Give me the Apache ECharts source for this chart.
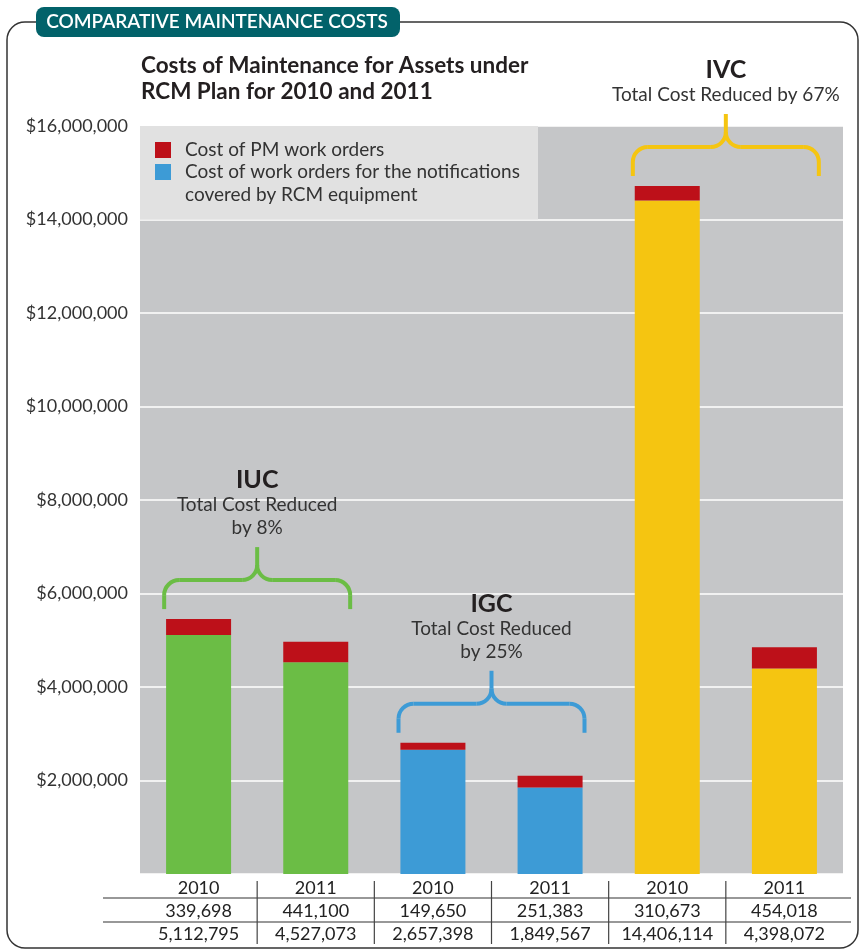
<!DOCTYPE html>
<html>
<head>
<meta charset="utf-8">
<script src="https://cdn.jsdelivr.net/npm/echarts@6/dist/echarts.min.js"></script>
<style>
  html, body { margin: 0; padding: 0; background: #fff; }
  #chart { width: 860px; height: 950px; }
</style>
</head>
<body>
<div id="chart"></div>
<script>
// ---------- data ----------
const categories = ['2010', '2011', '2010', '2011', '2010', '2011'];
const pmCosts = [339698, 441100, 149650, 251383, 310673, 454018];
const notifCosts = [5112795, 4527073, 2657398, 1849567, 14406114, 4398072];
const groupNames = ['IUC', 'IGC', 'IVC'];
const groupNotes = ['Total Cost Reduced\nby 8%', 'Total Cost Reduced\nby 25%', 'Total Cost Reduced by 67%'];
const yMin = 0, yMax = 16000000, yStep = 2000000;
const seriesNames = ['Cost of PM work orders', 'Cost of work orders for the notifications covered by RCM equipment'];
const headerText = 'COMPARATIVE MAINTENANCE COSTS';
const chartTitle = 'Costs of Maintenance for Assets under\nRCM Plan for 2010 and 2011';

// ---------- styles ----------
const groupColors = ['#6bbd45', '#3d9bd6', '#f5c511'];
const pmColor = '#bd1019';
const FONT = 'Lato, "Open Sans", sans-serif';
const fmt = v => v.toLocaleString('en-US');

const chart = echarts.init(document.getElementById('chart'), null, { renderer: 'canvas' });

const option = {
  animation: false,
  backgroundColor: '#fff',
  textStyle: { fontFamily: FONT },
  title: {
    text: chartTitle,
    left: 141, top: 53, padding: 0,
    textStyle: { fontFamily: FONT, fontSize: 22.5, fontWeight: 'bold', color: '#231f20', lineHeight: 26 }
  },
  grid: {
    left: 140, right: 17, top: 126, bottom: 76,
    show: true, backgroundColor: '#c5c6c8', borderWidth: 0
  },
  legend: [
    {
      data: [seriesNames[0]],
      left: 155, top: 138.5, padding: 0,
      icon: 'rect', itemWidth: 16, itemHeight: 16,
      selectedMode: false,
      textStyle: { fontFamily: FONT, fontSize: 19, color: '#333', lineHeight: 23, padding: [0, 0, 0, 9] }
    },
    {
      data: [seriesNames[1]],
      left: 155, top: 137.5, padding: 0,
      icon: 'rect', itemWidth: 16, itemHeight: 16,
      selectedMode: false,
      formatter: name => '\n' + name.replace(' notifications ', ' notifications\n'),
      textStyle: { fontFamily: FONT, fontSize: 19, color: '#333', lineHeight: 23, padding: [0, 0, 0, 9] }
    }
  ],
  xAxis: {
    type: 'category',
    data: categories,
    axisLine: { show: false },
    axisTick: { show: false },
    axisLabel: {
      interval: 0,
      margin: 3,
      fontFamily: FONT, fontSize: 18, color: '#222', lineHeight: 23,
      formatter: (v, i) => v + '\n' + fmt(pmCosts[i]) + '\n' + fmt(notifCosts[i])
    }
  },
  yAxis: {
    type: 'value',
    min: yMin, max: yMax, interval: yStep,
    axisLine: { show: false },
    axisTick: { show: false },
    splitLine: { lineStyle: { color: '#ffffff', width: 1.5 } },
    axisLabel: {
      margin: 12,
      fontFamily: FONT, fontSize: 18, color: '#333',
      formatter: v => v === 0 ? '' : '$' + fmt(v)
    }
  },
  series: [
    {
      name: seriesNames[1],
      type: 'bar', stack: 'total', barWidth: 65,
      itemStyle: { color: groupColors[1] },
      data: notifCosts.map((v, i) => ({ value: v, itemStyle: { color: groupColors[Math.floor(i / 2)] } })),
      z: 3
    },
    {
      name: seriesNames[0],
      type: 'bar', stack: 'total', barWidth: 65,
      itemStyle: { color: pmColor },
      data: pmCosts,
      z: 3
    }
  ]
};
chart.setOption(option);

// ---------- annotations derived from the axes ----------
function px(i) { return chart.convertToPixel({ xAxisIndex: 0 }, i); }
function py(v) { return chart.convertToPixel({ yAxisIndex: 0 }, v); }

const graphics = [];
// outer frame
graphics.push({
  type: 'rect', z: 0, silent: true,
  shape: { x: 7, y: 22, width: 851, height: 926, r: 18 },
  style: { fill: null, stroke: '#333', lineWidth: 1.5 }
});
// header tab
graphics.push({
  type: 'rect', z: 10, silent: true,
  shape: { x: 36, y: 7, width: 364, height: 30, r: 8 },
  style: { fill: '#02626a' }
});
graphics.push({
  type: 'text', z: 11, silent: true,
  x: 217, y: 22,
  style: { text: headerText, fill: '#fff', font: '600 19px ' + FONT, textAlign: 'center', textVerticalAlign: 'middle' }
});
// legend box
const gridTop = py(yMax);
const gridLeft = 140;
graphics.push({
  type: 'rect', z: 1, silent: true,
  shape: { x: gridLeft, y: gridTop, width: 398, height: py(14000000) - gridTop },
  style: { fill: '#e1e1e1' }
});

// table lines
const tableLeft = 103, tableRight = 851;
[898, 922].forEach(y => graphics.push({
  type: 'line', z: 5, silent: true,
  shape: { x1: tableLeft, y1: y, x2: tableRight, y2: y },
  style: { stroke: '#333', lineWidth: 1.2 }
}));
for (let i = 0; i < categories.length - 1; i++) {
  const xm = (px(i) + px(i + 1)) / 2;
  graphics.push({
    type: 'line', z: 5, silent: true,
    shape: { x1: xm, y1: 881, x2: xm, y2: 944 },
    style: { stroke: '#444', lineWidth: 1.2 }
  });
}

// brackets + labels
function seg(x1, y1, x2, y2, color) {
  return { type: 'line', z: 4, silent: true, shape: { x1, y1, x2, y2 },
           style: { stroke: color, lineWidth: 4, lineCap: 'butt' } };
}
function arc(cx, cy, r, a0, a1, color) {
  return { type: 'arc', z: 4, silent: true, shape: { cx, cy, r, startAngle: a0, endAngle: a1, clockwise: true },
           style: { stroke: color, lineWidth: 4, fill: null } };
}
const PI = Math.PI;
for (let g = 0; g < groupNames.length; g++) {
  const a = 2 * g, b = 2 * g + 1;
  const c = groupColors[g];
  const mid = (px(a) + px(b)) / 2;
  const top = Math.min(py(pmCosts[a] + notifCosts[a]), py(pmCosts[b] + notifCosts[b]));
  const yb = top - 10, h = yb - 29, ys = h - 33, r = 15;
  const xL = mid - 93, xR = mid + 93;
  graphics.push(seg(xL, yb, xL, h + r, c));
  graphics.push(arc(xL + r, h + r, r, PI, 1.5 * PI, c));
  graphics.push(seg(xL + r, h, mid - r, h, c));
  graphics.push(arc(mid - r, h - r, r, 0, 0.5 * PI, c));
  graphics.push(seg(mid, h - r, mid, ys, c));
  graphics.push(seg(xR, yb, xR, h + r, c));
  graphics.push(arc(xR - r, h + r, r, -0.5 * PI, 0, c));
  graphics.push(seg(mid + r, h, xR - r, h, c));
  graphics.push(arc(mid + r, h - r, r, 0.5 * PI, PI, c));

  const lines = groupNotes[g].split('\n');
  const lastY = ys - 19;
  lines.forEach((t, k) => {
    graphics.push({
      type: 'text', z: 4, silent: true,
      x: mid, y: lastY - (lines.length - 1 - k) * 23,
      style: { text: t, fill: '#333', font: '19px ' + FONT, textAlign: 'center', textVerticalAlign: 'middle' }
    });
  });
  graphics.push({
    type: 'text', z: 4, silent: true,
    x: mid, y: lastY - (lines.length - 1) * 23 - 25,
    style: { text: groupNames[g], fill: '#231f20', font: 'bold 25px ' + FONT, textAlign: 'center', textVerticalAlign: 'middle' }
  });
}

chart.setOption({ graphic: { elements: graphics } });
</script>
</body>
</html>
